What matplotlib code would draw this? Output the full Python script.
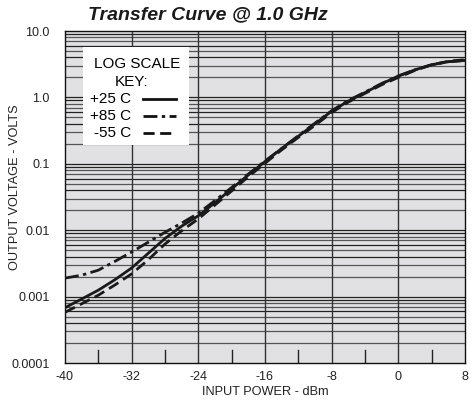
import matplotlib
matplotlib.use("Agg")
import matplotlib.pyplot as plt
from matplotlib.lines import Line2D
from matplotlib.patches import Rectangle
import numpy as np

plt.rcParams['font.family'] = ['Liberation Sans', 'DejaVu Sans']

# data
power_dbm = [-40, -38, -36, -34, -32, -30, -28, -26, -24, -22, -20, -18, -16,
             -14, -12, -10, -8, -6, -4, -2, 0, 2, 4, 6, 8]
v_25c = [0.00068, 0.00092, 0.00125, 0.0018, 0.0027, 0.0045, 0.0075, 0.0115,
         0.0165, 0.026, 0.042, 0.068, 0.108, 0.17, 0.26, 0.40, 0.62, 0.88,
         1.18, 1.6, 2.1, 2.6, 3.1, 3.45, 3.6]
v_85c = [0.0019, 0.0021, 0.0025, 0.0034, 0.0047, 0.0066, 0.0093, 0.0128,
         0.018, 0.028, 0.044, 0.07, 0.11, 0.17, 0.265, 0.41, 0.63, 0.9,
         1.2, 1.62, 2.1, 2.6, 3.1, 3.45, 3.6]
v_m55c = [0.00058, 0.00078, 0.00105, 0.0015, 0.0022, 0.0036, 0.0062, 0.0098,
          0.0148, 0.024, 0.039, 0.064, 0.102, 0.162, 0.25, 0.38, 0.59, 0.85,
          1.15, 1.55, 2.0, 2.55, 3.1, 3.5, 3.7]
x_ticks = [-40, -32, -24, -16, -8, 0, 8]
x_tick_labels = ['-40', '-32', '-24', '-16', '-8', '0', '8']
y_ticks = [1e-4, 1e-3, 1e-2, 1e-1, 1, 10]
y_tick_labels = ['0.0001', '0.001', '0.01', '0.1', '1.0', '10.0']
legend_labels = ['+25 C', '+85 C', '-55 C']

W, H = 473, 400
fig = plt.figure(figsize=(W / 100, H / 100), dpi=100)
L, R, B, T = 65, 465, 363, 31
ax = fig.add_axes([L / W, 1 - B / H, (R - L) / W, (B - T) / H])
ax.set_facecolor('#e1e1e3')
ax.set_yscale('log')
ax.set_xlim(-40, 8)
ax.set_ylim(1e-4, 10)

# horizontal grid: every minor log value
for dec in range(-4, 1):
    for m in range(1, 10):
        v = m * 10.0 ** dec
        if v <= 1e-4 or v >= 10:
            continue
        col = '#222222' if m in (1, 4, 6, 9) else '#555555'
        ax.axhline(v, color=col, lw=0.9, zorder=1)
for xv in [-32, -24, -16, -8, 0]:
    ax.axvline(xv, color='#333333', lw=1.0, zorder=1)
# short ticks at bottom
for xv in [-36, -28, -20, -12, -4, 4]:
    ax.plot([xv, xv], [1e-4, 1.55e-4], color='#222222', lw=1.0, zorder=1)

dashdot = (0, (5, 1.6, 1.2, 1.6))
dashed = (0, (4, 2))
ax.plot(power_dbm, v_85c, color='#1a1a1a', lw=2.0, linestyle=dashdot, zorder=3)
ax.plot(power_dbm, v_m55c, color='#1a1a1a', lw=2.0, linestyle=dashed, zorder=3)
ax.plot(power_dbm, v_25c, color='#1a1a1a', lw=2.0, zorder=4)

ax.set_xticks(x_ticks)
ax.set_xticklabels(x_tick_labels, fontsize=9, color='#222222')
ax.set_yticks(y_ticks)
ax.set_yticklabels(y_tick_labels, fontsize=9, color='#222222')
ax.yaxis.set_minor_locator(matplotlib.ticker.NullLocator())
ax.tick_params(axis='x', length=0, pad=6)
ax.tick_params(axis='y', length=0, pad=11)
for s in ax.spines.values():
    s.set_color('#111111')
    s.set_linewidth(1.0)

fig.text(15 / W, 1 - 187 / H, 'OUTPUT VOLTAGE - VOLTS', rotation=90,
         ha='center', va='center', fontsize=9.2, color='#222222')
fig.text(265 / W, 1 - 392 / H, 'INPUT POWER - dBm', ha='center', va='center',
         fontsize=9.2, color='#222222')
fig.text(208 / W, 1 - 15 / H, 'Transfer Curve @ 1.0 GHz', ha='center', va='center',
         fontsize=14, fontweight='bold', fontstyle='italic', color='#1a1a1a')

# key box
fig.patches.append(Rectangle((83 / W, 1 - 145 / H), (189 - 83) / W, (145 - 47) / H,
                             transform=fig.transFigure, facecolor='white',
                             edgecolor='none', zorder=5))
fig.text(137 / W, 1 - 64 / H, 'LOG SCALE', ha='center', va='center', fontsize=11, zorder=6)
fig.text(132 / W, 1 - 82 / H, 'KEY:', ha='center', va='center', fontsize=11, zorder=6)
styles = ['-', dashdot, dashed]
for i, (lab, st) in enumerate(zip(legend_labels, styles)):
    yy = 1 - (99 + 17 * i) / H
    fig.text(131 / W, yy, lab, ha='right', va='center', fontsize=11, zorder=6)
    fig.lines.append(Line2D([143 / W, 176 / W], [yy, yy], transform=fig.transFigure,
                            color='#111111', lw=2.0, linestyle=st, zorder=6))

fig.savefig('out.png', dpi=100)
